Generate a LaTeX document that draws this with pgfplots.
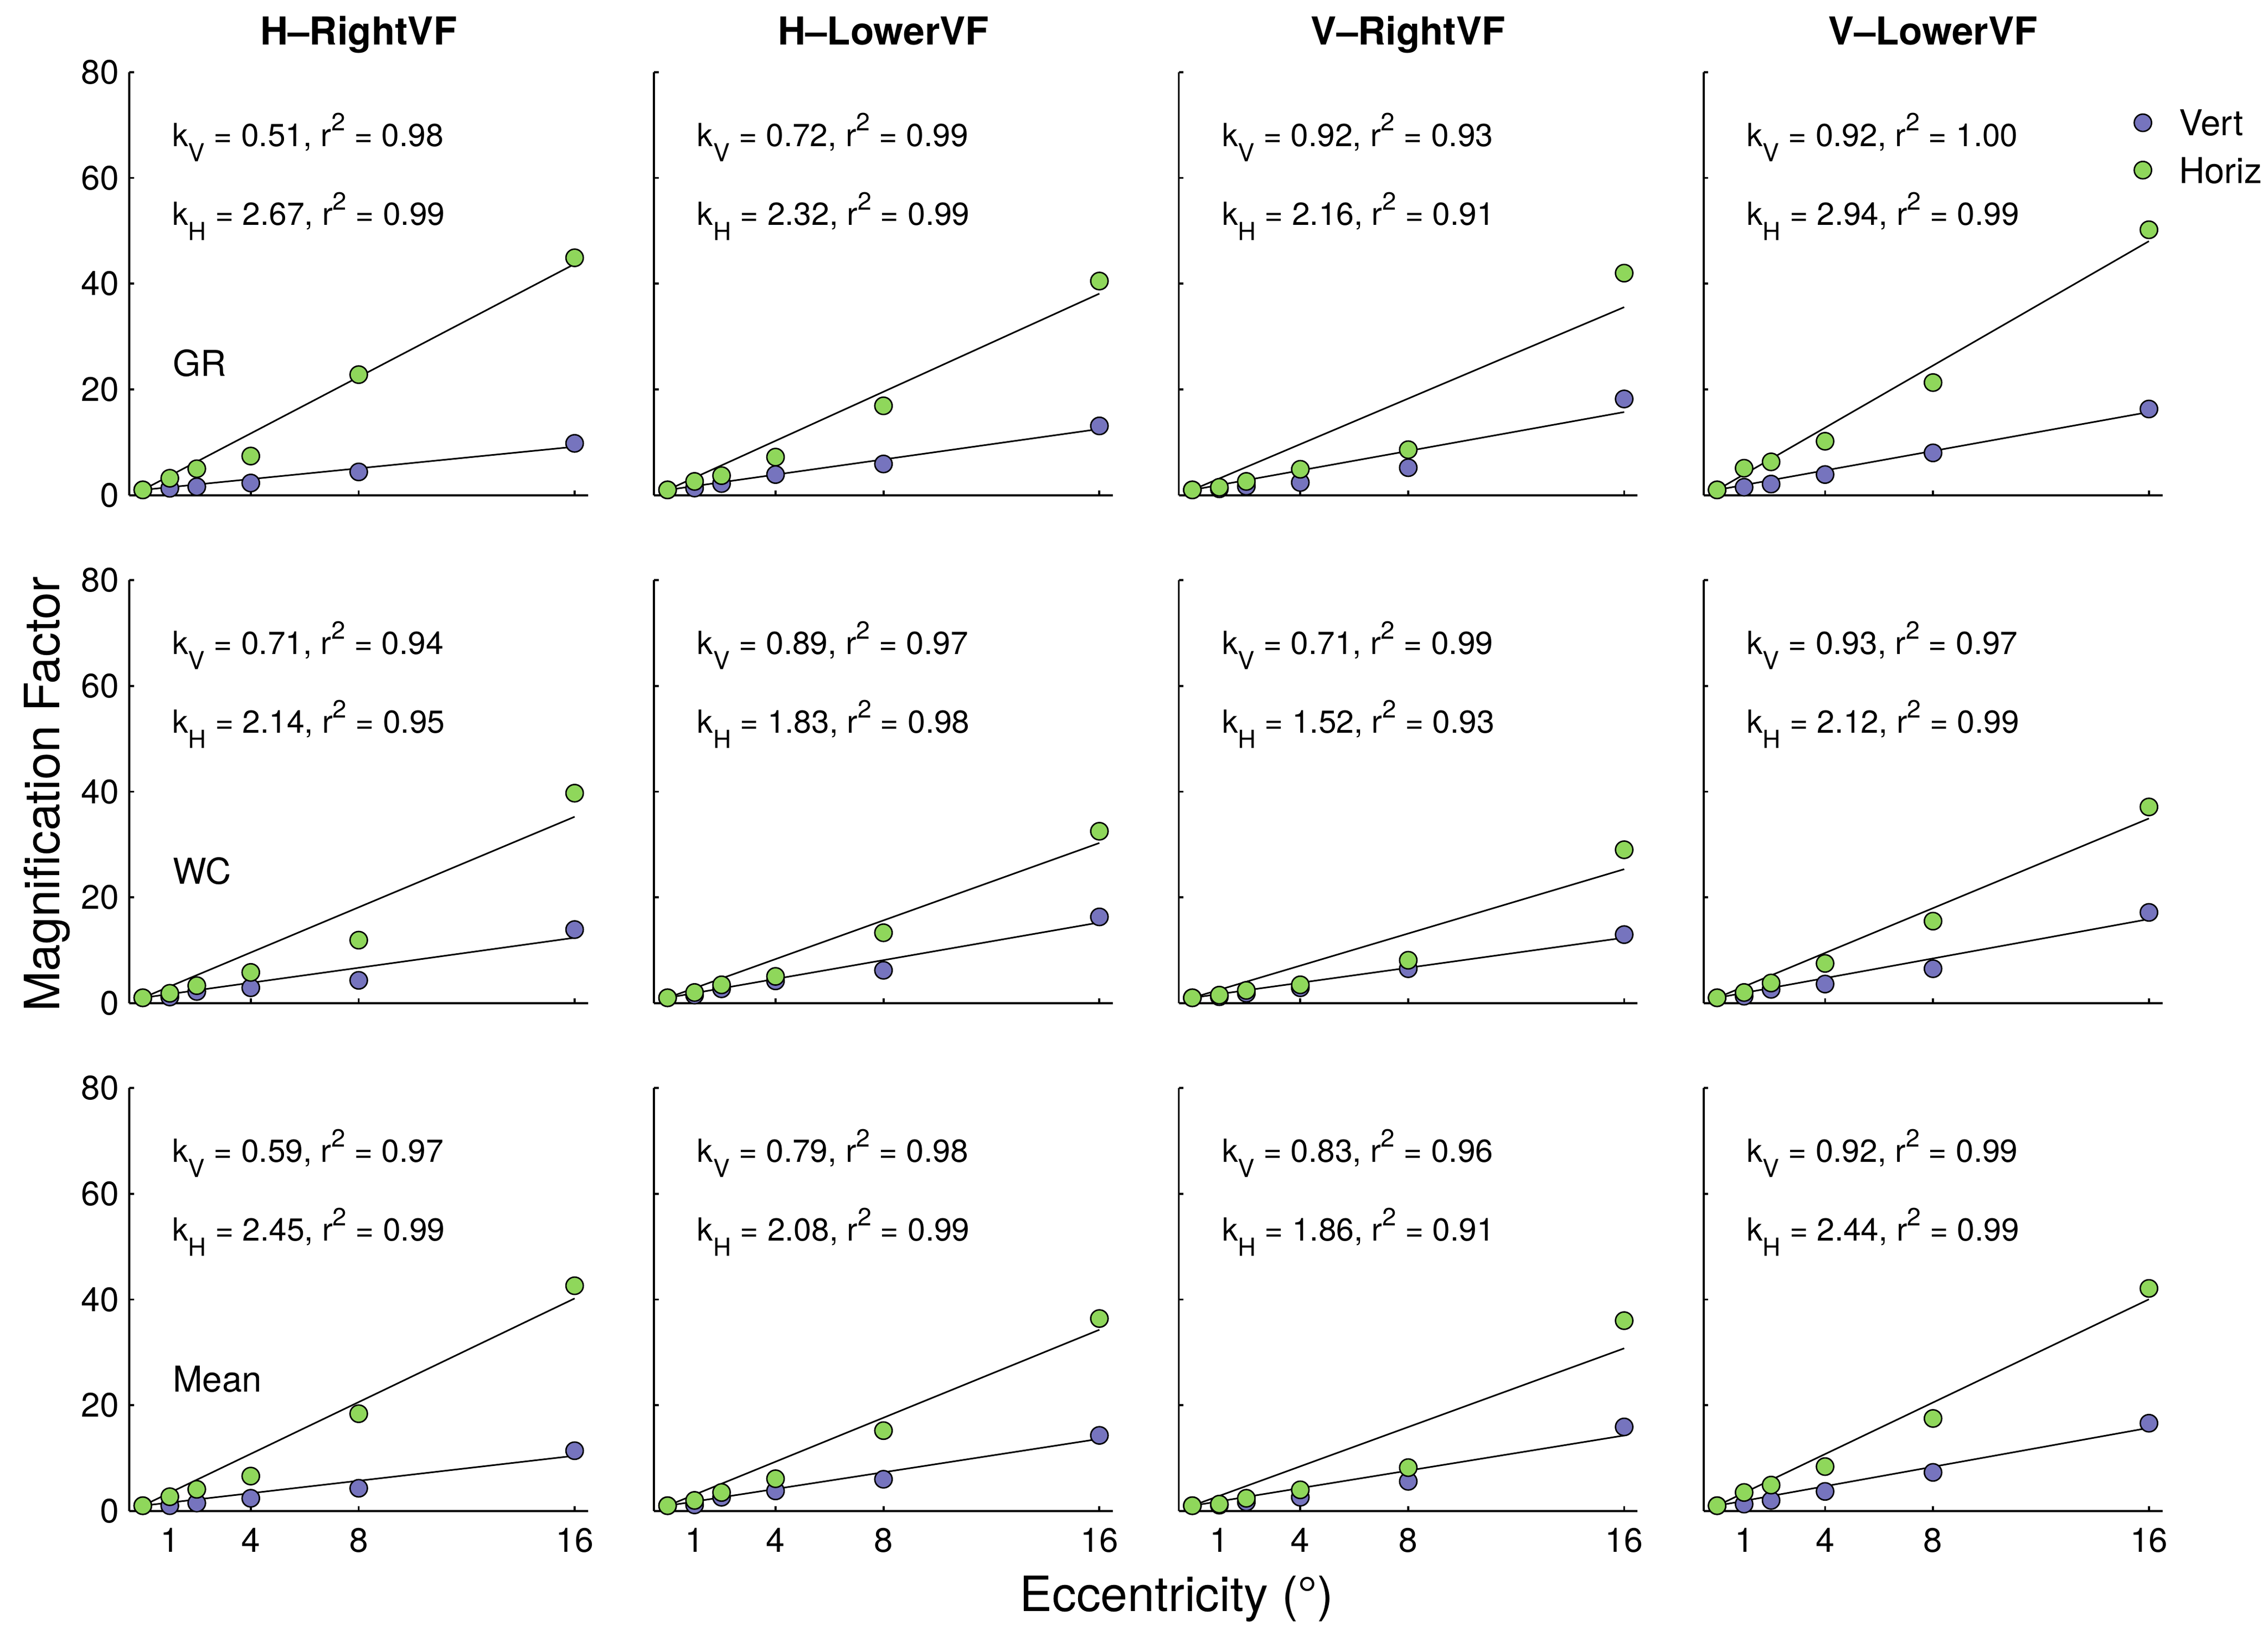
\documentclass[border=0pt]{standalone}
\usepackage{fontspec}
\setmainfont{TeX Gyre Heros}
\usepackage{pgfplots}
\pgfplotsset{compat=1.18}
\usepackage{pgfplotstable}

\definecolor{vcol}{RGB}{118,116,190}
\definecolor{hcol}{RGB}{143,215,91}

\newcommand\sub[1]{\raisebox{-5.3pt}{\fontsize{8.6}{9}\selectfont #1}}
\newcommand\sups[1]{\raisebox{5.3pt}{\fontsize{8.6}{9}\selectfont #1}}

\pgfplotstableread{
x   av   ah   bv   bh   cv    ch   dv    dh
0   1.0  1.0  1.0  1.0  1.0   1.0  1.0   1.0
1   1.3  3.2  1.35 2.6  1.2   1.5  1.5   5.1
2   1.6  5.0  2.2  3.7  1.7   2.6  2.1   6.3
4   2.3  7.4  3.9  7.2  2.4   4.9  3.9   10.2
8   4.4  22.8 5.9  16.9 5.2   8.6  8.0   21.3
16  9.8  44.9 13.1 40.5 18.2  42.0 16.3  50.2
}\GRdata

\pgfplotstableread{
x   av   ah   bv   bh   cv    ch   dv    dh
0   1.0  1.0  1.0  1.0  1.0   1.0  1.0   1.0
1   1.15 1.85 1.5  2.0  1.2   1.5  1.3   2.0
2   2.2  3.3  2.7  3.45 1.85  2.4  2.6   3.8
4   2.9  5.8  4.2  5.05 2.9   3.45 3.6   7.5
8   4.3  11.9 6.2  13.3 6.5   8.1  6.5   15.5
16  13.9 39.7 16.3 32.5 12.95 29.0 17.15 37.1
}\WCdata

\pgfplotstableread{
x   av   ah   bv   bh   cv    ch   dv    dh
0   1.0  1.0  1.0  1.0  1.0   1.0  1.0   1.0
1   1.0  2.7  1.15 2.0  1.1   1.3  1.3   3.5
2   1.5  4.1  2.6  3.5  1.7   2.4  2.0   4.9
4   2.4  6.6  3.8  6.1  2.6   4.0  3.7   8.4
8   4.3  18.4 6.0  15.2 5.6   8.2  7.3   17.5
16  11.4 42.6 14.3 36.4 15.9  36.0 16.6  42.1
}\MNdata

\pgfplotsset{
  panel/.style={
    scale only axis, width=158.6pt, height=146.2pt,
    anchor=south west,
    xmin=-0.5, xmax=16.5, ymin=0, ymax=80,
    axis lines*=left,
    axis line style={line width=0.7pt},
    xtick={1,4,8,16}, ytick={0,20,40,60,80},
    xticklabels={}, yticklabels={},
    tick align=inside, major tick length=1.6pt,
    tick style={black, line width=0.7pt},
    /pgf/number format/assume math mode=true,
    tick label style={font=\fontsize{11.7}{12}\selectfont},
    xticklabel style={yshift=-2.3pt},
    yticklabel style={xshift=-0.1pt},
    clip=false,
  },
  vert/.style={only marks, mark=*, mark size=3pt,
    mark options={fill=vcol, draw=black, line width=0.5pt}},
  horiz/.style={only marks, mark=*, mark size=3pt,
    mark options={fill=hcol, draw=black, line width=0.5pt}},
  fit/.style={black, line width=0.55pt, no marks},
}
\tikzset{
  annot/.style={anchor=base west, inner sep=0pt, font=\fontsize{11}{12}\selectfont},
  rowlab/.style={anchor=base west, inner sep=0pt, font=\fontsize{12.3}{13}\selectfont},
  coltitle/.style={anchor=base, inner sep=0pt, font=\bfseries\fontsize{13.3}{14}\selectfont},
}

% #1 table, #2 column prefix, #3 V fit end, #4 H fit end, #5 kV, #6 rV, #7 kH, #8 rH
\newcommand\panelbody[8]{%
  \addplot[vert] table[x=x,y=#2v]{#1};
  \addplot[horiz] table[x=x,y=#2h]{#1};
  \addplot[fit] coordinates {(0,1) (16,#3)};
  \addplot[fit] coordinates {(0,1) (16,#4)};
  \node[annot] at (axis cs:1.08,66.0) {k\sub{V} = #5, r\sups{2} = #6};
  \node[annot] at (axis cs:1.08,51.1) {k\sub{H} = #7, r\sups{2} = #8};
}

\begin{document}
\begin{tikzpicture}
\useasboundingbox (0,0) rectangle (784pt,-565.3pt);

% ---------- Row 1: GR ----------
\begin{axis}[panel, at={(44.7pt,-171.15pt)}, yticklabels={0,20,40,60,80}]
  \panelbody{\GRdata}{a}{9.16}{43.72}{0.51}{0.98}{2.67}{0.99}
  \node[rowlab] at (axis cs:1.09,22.5) {GR};
\end{axis}
\begin{axis}[panel, at={(226.1pt,-171.15pt)}]
  \panelbody{\GRdata}{b}{12.52}{38.12}{0.72}{0.99}{2.32}{0.99}
\end{axis}
\begin{axis}[panel, at={(407.5pt,-171.15pt)}]
  \panelbody{\GRdata}{c}{15.72}{35.56}{0.92}{0.93}{2.16}{0.91}
\end{axis}
\begin{axis}[panel, at={(588.9pt,-171.15pt)},
  legend entries={Vert,Horiz},
  legend cell align=left,
  legend image code/.code={\draw[#1] plot coordinates {(0pt,0pt)};},
  legend style={draw=none, fill=none, at={(0.9385,0.8245)}, anchor=west,
    inner sep=0pt, outer sep=0pt, row sep=7.4pt, column sep=9.5pt,
    nodes={inner sep=0pt, text depth=0pt},
    font=\fontsize{12.3}{13}\selectfont}]
  \panelbody{\GRdata}{d}{15.72}{48.04}{0.92}{1.00}{2.94}{0.99}
\end{axis}

% ---------- Row 2: WC ----------
\begin{axis}[panel, at={(44.7pt,-346.7pt)}, yticklabels={0,20,40,60,80}]
  \panelbody{\WCdata}{a}{12.36}{35.24}{0.71}{0.94}{2.14}{0.95}
  \node[rowlab] at (axis cs:1.09,22.5) {WC};
\end{axis}
\begin{axis}[panel, at={(226.1pt,-346.7pt)}]
  \panelbody{\WCdata}{b}{15.24}{30.28}{0.89}{0.97}{1.83}{0.98}
\end{axis}
\begin{axis}[panel, at={(407.5pt,-346.7pt)}]
  \panelbody{\WCdata}{c}{12.36}{25.32}{0.71}{0.99}{1.52}{0.93}
\end{axis}
\begin{axis}[panel, at={(588.9pt,-346.7pt)}]
  \panelbody{\WCdata}{d}{15.88}{34.92}{0.93}{0.97}{2.12}{0.99}
\end{axis}

% ---------- Row 3: Mean ----------
\begin{axis}[panel, at={(44.7pt,-522.25pt)}, yticklabels={0,20,40,60,80}, xticklabels={1,4,8,16}]
  \panelbody{\MNdata}{a}{10.44}{40.20}{0.59}{0.97}{2.45}{0.99}
  \node[rowlab] at (axis cs:1.09,22.5) {Mean};
\end{axis}
\begin{axis}[panel, at={(226.1pt,-522.25pt)}, xticklabels={1,4,8,16}]
  \panelbody{\MNdata}{b}{13.64}{34.28}{0.79}{0.98}{2.08}{0.99}
\end{axis}
\begin{axis}[panel, at={(407.5pt,-522.25pt)}, xticklabels={1,4,8,16}]
  \panelbody{\MNdata}{c}{14.28}{30.76}{0.83}{0.96}{1.86}{0.91}
\end{axis}
\begin{axis}[panel, at={(588.9pt,-522.25pt)}, xticklabels={1,4,8,16}]
  \panelbody{\MNdata}{d}{15.72}{40.04}{0.92}{0.99}{2.44}{0.99}
\end{axis}

% ---------- titles and axis labels ----------
\node[coltitle] at (124.0pt,-15.5pt) {H--RightVF};
\node[coltitle] at (305.4pt,-15.5pt) {H--LowerVF};
\node[coltitle] at (486.8pt,-15.5pt) {V--RightVF};
\node[coltitle] at (668.2pt,-15.5pt) {V--LowerVF};
\node[rotate=90, anchor=base, inner sep=0pt, font=\fontsize{16.8}{18}\selectfont] at (20.5pt,-274.5pt) {Magnification Factor};
\node[anchor=base, inner sep=0pt, font=\fontsize{16.8}{18}\selectfont] at (406.75pt,-557pt) {Eccentricity (°)};
\end{tikzpicture}
\end{document}
